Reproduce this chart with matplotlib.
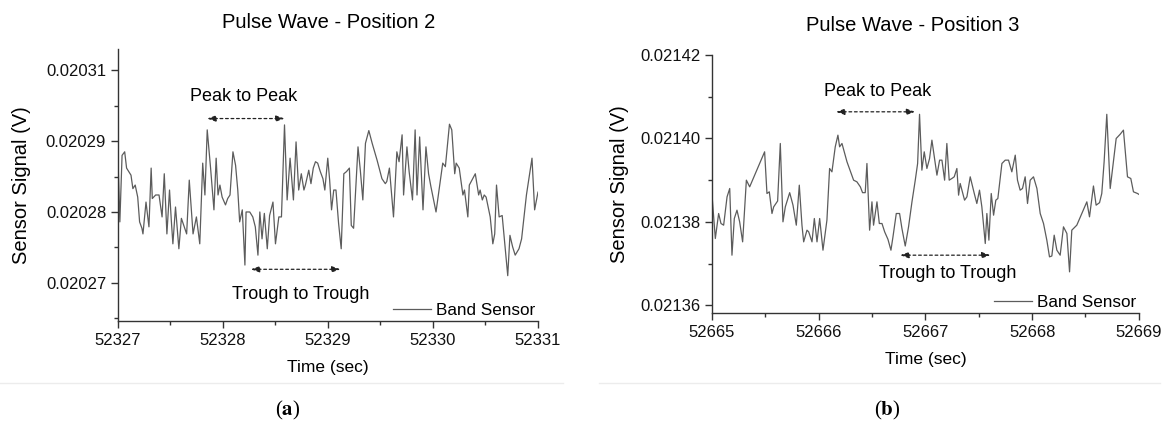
import numpy as np
import matplotlib
matplotlib.use("Agg")
import matplotlib.pyplot as plt
from matplotlib.ticker import FixedLocator, MultipleLocator
from matplotlib.lines import Line2D

plt.rcParams['font.family'] = ['Liberation Sans', 'DejaVu Sans']
plt.rcParams['mathtext.fontset'] = 'stix'

# ---- Position 2 (band sensor) ----
t0_a = 52327
dt_a = [0.000, 0.018, 0.039, 0.064, 0.082, 0.103, 0.124, 0.142, 0.164, 0.188,
        0.206, 0.228, 0.238, 0.267, 0.295, 0.316, 0.327, 0.359, 0.391, 0.420,
        0.441, 0.466, 0.491, 0.508, 0.523, 0.548, 0.580, 0.604, 0.654, 0.679,
        0.715, 0.747, 0.779, 0.807, 0.828, 0.850, 0.882, 0.914, 0.935, 0.953,
        0.971, 0.992, 1.024, 1.045, 1.067, 1.095, 1.120, 1.141, 1.159, 1.184,
        1.209, 1.220, 1.255, 1.284, 1.308, 1.333, 1.351, 1.372, 1.394, 1.422,
        1.444, 1.476, 1.500, 1.532, 1.557, 1.586, 1.611, 1.639, 1.671, 1.696,
        1.721, 1.746, 1.771, 1.785, 1.817, 1.838, 1.860, 1.881, 1.902, 1.927,
        1.952, 1.970, 1.998, 2.016, 2.034, 2.055, 2.076, 2.101, 2.126, 2.151,
        2.176, 2.204, 2.222, 2.244, 2.286, 2.308, 2.332, 2.357, 2.389, 2.421,
        2.468, 2.514, 2.546, 2.560, 2.585, 2.624, 2.656, 2.677, 2.706, 2.720,
        2.752, 2.773, 2.805, 2.830, 2.848, 2.873, 2.905, 2.933, 2.958, 2.980,
        3.029, 3.093, 3.118, 3.157, 3.179, 3.207, 3.221, 3.250, 3.285, 3.300,
        3.332, 3.346, 3.403, 3.435, 3.449, 3.470, 3.488, 3.506, 3.545, 3.570,
        3.588, 3.605, 3.630, 3.659, 3.712, 3.733, 3.758, 3.783, 3.819, 3.844,
        3.890, 3.943, 3.968, 4.000]
uv_a = [20292.6, 20283.6, 20293.0, 20293.5, 20291.2, 20290.7, 20290.2, 20288.3, 20288.8, 20287.1,
        20283.6, 20282.7, 20281.9, 20286.4, 20282.9, 20291.2, 20286.9, 20287.4, 20287.4, 20284.3,
        20290.4, 20281.9, 20288.1, 20283.8, 20280.5, 20285.7, 20279.8, 20284.1, 20281.9, 20289.5,
        20281.9, 20284.3, 20280.5, 20291.9, 20287.4, 20296.6, 20291.2, 20285.3, 20292.6, 20287.4,
        20288.8, 20287.1, 20286.0, 20286.9, 20287.4, 20293.5, 20291.6, 20288.1, 20283.6, 20285.3,
        20277.5, 20285.0, 20285.0, 20284.3, 20282.9, 20278.9, 20285.0, 20281.2, 20284.8, 20279.8,
        20284.5, 20286.4, 20280.5, 20284.3, 20284.3, 20297.3, 20286.7, 20292.6, 20286.7, 20294.9,
        20288.1, 20290.4, 20288.1, 20288.8, 20290.9, 20289.0, 20291.2, 20292.1, 20291.9, 20290.7,
        20289.7, 20288.1, 20292.6, 20289.5, 20285.3, 20288.1, 20288.1, 20283.4, 20279.8, 20290.4,
        20290.7, 20291.2, 20283.1, 20282.7, 20294.2, 20290.9, 20286.7, 20294.7, 20296.5, 20294.7,
        20292.3, 20289.7, 20289.0, 20289.3, 20291.2, 20284.3, 20293.5, 20292.1, 20295.9, 20287.4,
        20294.2, 20290.7, 20286.7, 20296.6, 20287.4, 20295.6, 20285.3, 20294.2, 20290.4, 20288.6,
        20285.0, 20291.9, 20291.4, 20297.4, 20296.6, 20290.4, 20291.9, 20291.2, 20287.4, 20288.1,
        20284.3, 20288.8, 20290.4, 20287.4, 20288.1, 20286.7, 20287.4, 20287.1, 20284.3, 20280.5,
        20281.9, 20288.8, 20284.3, 20284.5, 20276.0, 20281.7, 20280.1, 20278.9, 20279.8, 20281.2,
        20287.4, 20292.6, 20285.3, 20287.8]

# ---- Position 3 (band sensor) ----
t0_b = 52665
dt_b = [0.000, 0.031, 0.062, 0.084, 0.109, 0.141, 0.166, 0.187, 0.209, 0.234,
        0.259, 0.287, 0.322, 0.353, 0.493, 0.515, 0.537, 0.562, 0.578, 0.615,
        0.640, 0.665, 0.687, 0.728, 0.759, 0.790, 0.818, 0.843, 0.859, 0.890,
        0.906, 0.937, 0.959, 0.984, 1.009, 1.040, 1.077, 1.102, 1.124, 1.155,
        1.180, 1.196, 1.218, 1.265, 1.327, 1.358, 1.390, 1.411, 1.436, 1.452,
        1.477, 1.499, 1.514, 1.546, 1.568, 1.593, 1.618, 1.649, 1.677, 1.696,
        1.727, 1.758, 1.780, 1.811, 1.842, 1.874, 1.905, 1.927, 1.945, 1.967,
        1.989, 2.014, 2.039, 2.061, 2.083, 2.108, 2.133, 2.155, 2.180, 2.201,
        2.223, 2.248, 2.270, 2.295, 2.311, 2.326, 2.342, 2.367, 2.389, 2.420,
        2.458, 2.482, 2.507, 2.529, 2.561, 2.576, 2.595, 2.617, 2.639, 2.660,
        2.679, 2.717, 2.748, 2.779, 2.810, 2.842, 2.863, 2.888, 2.910, 2.935,
        2.957, 2.982, 3.013, 3.045, 3.076, 3.107, 3.138, 3.163, 3.185, 3.207,
        3.232, 3.263, 3.294, 3.326, 3.351, 3.372, 3.419, 3.466, 3.513, 3.538,
        3.575, 3.600, 3.632, 3.653, 3.675, 3.700, 3.732, 3.788, 3.825, 3.856,
        3.894, 3.925, 3.950, 3.988, 4.000]
uv_b = [21386.4, 21376.0, 21382.0, 21379.6, 21379.2, 21386.0, 21388.0, 21372.0, 21380.8, 21382.8,
        21380.0, 21375.2, 21390.0, 21388.4, 21396.8, 21386.8, 21387.2, 21382.0, 21383.6, 21385.0,
        21398.8, 21380.0, 21383.6, 21387.0, 21384.0, 21379.2, 21388.8, 21379.2, 21375.2, 21378.0,
        21377.6, 21375.2, 21380.8, 21375.2, 21380.8, 21373.2, 21380.4, 21392.8, 21392.0, 21398.0,
        21400.8, 21398.0, 21398.8, 21394.4, 21390.0, 21389.6, 21388.4, 21387.0, 21387.0, 21394.0,
        21378.0, 21384.8, 21379.2, 21384.8, 21379.6, 21379.6, 21377.6, 21375.8, 21373.2, 21376.4,
        21382.0, 21382.0, 21378.4, 21374.2, 21378.8, 21384.8, 21390.0, 21394.0, 21405.8, 21392.4,
        21396.8, 21392.8, 21395.2, 21399.6, 21395.6, 21391.2, 21394.8, 21394.8, 21390.0, 21398.8,
        21390.0, 21390.4, 21390.8, 21392.8, 21386.4, 21389.2, 21387.6, 21385.2, 21386.0, 21390.8,
        21386.8, 21384.4, 21387.6, 21383.6, 21374.8, 21382.0, 21375.6, 21386.8, 21381.6, 21385.2,
        21385.6, 21394.0, 21394.8, 21394.8, 21392.0, 21396.0, 21390.0, 21387.6, 21388.0, 21390.8,
        21384.4, 21390.0, 21390.8, 21388.0, 21382.0, 21379.6, 21375.6, 21371.6, 21371.8, 21376.8,
        21373.2, 21372.0, 21378.8, 21377.2, 21368.0, 21378.0, 21379.2, 21382.0, 21384.8, 21381.2,
        21388.6, 21384.0, 21384.6, 21386.8, 21394.4, 21405.8, 21388.0, 21400.0, 21401.0, 21402.0,
        21390.8, 21390.4, 21387.2, 21386.8, 21386.6]

# y ticks (Origin-style rounded labels)
yticks_a = [0.020275, 0.020285, 0.020295, 0.020305]
ylabels_a = ['0.02027', '0.02028', '0.02029', '0.02031']
yticks_b = [0.02136, 0.02138, 0.02140, 0.02142]
ylabels_b = ['0.02136', '0.02138', '0.02140', '0.02142']

line_col = '#5c5c5c'
ax_col = '#333333'

fig = plt.figure(figsize=(11.68, 4.24), dpi=100)
ax_a = fig.add_axes([0.101, 0.243, 0.3596, 0.641])
ax_b = fig.add_axes([0.6096, 0.2625, 0.3654, 0.6075])


def style_axes(ax, t0, yt, yl, ypad, xpad):
    for s in ['top', 'right']:
        ax.spines[s].set_visible(False)
    for s in ['left', 'bottom']:
        ax.spines[s].set_color(ax_col)
        ax.spines[s].set_linewidth(1.0)
    ax.set_xlim(t0, t0 + 4)
    ax.xaxis.set_major_locator(FixedLocator([t0 + i for i in range(5)]))
    ax.set_xticklabels([str(t0 + i) for i in range(5)])
    ax.xaxis.set_minor_locator(MultipleLocator(0.5))
    ax.yaxis.set_major_locator(FixedLocator(yt))
    ax.set_yticklabels(yl)
    ax.tick_params(which='major', direction='out', length=5, width=1,
                   color=ax_col, labelsize=12, labelcolor='#111111')
    ax.tick_params(which='minor', direction='out', length=3, width=1, color=ax_col)
    ax.set_xlabel('Time (sec)', fontsize=12.5, labelpad=xpad)
    ax.set_ylabel('Sensor Signal (V)', fontsize=14.5, labelpad=ypad)


def dashed_arrow(ax, x1, x2, y):
    ax.annotate('', xy=(x2, y), xytext=(x1, y),
                arrowprops=dict(arrowstyle='<|-|>,head_length=0.5,head_width=0.18',
                                linestyle=(0, (2.2, 2.2)), lw=0.9, color='#222222',
                                shrinkA=0, shrinkB=0))


def add_legend(ax):
    ax.legend(loc='lower right', frameon=False, fontsize=12.3, handlelength=2.2,
              handletextpad=0.3, borderaxespad=0.0, borderpad=0.15)


# panel (a)
ta = t0_a + np.array(dt_a)
va = np.array(uv_a) * 1e-6
ax_a.plot(ta, va, color=line_col, lw=0.9, label='Band Sensor')
style_axes(ax_a, t0_a, yticks_a, ylabels_a, ypad=11, xpad=9)
ax_a.set_ylim(0.0202696, 0.0203080)
ax_a.yaxis.set_minor_locator(FixedLocator([0.02027, 0.02028, 0.02029, 0.02030]))
dashed_arrow(ax_a, t0_a + 0.850, t0_a + 1.586, 0.0202982)
dashed_arrow(ax_a, t0_a + 1.266, t0_a + 2.119, 0.0202769)
ax_a.text(t0_a + 1.195, 0.0203013, 'Peak to Peak', ha='center', va='center', fontsize=13)
ax_a.text(t0_a + 1.739, 0.0202733, 'Trough to Trough', ha='center', va='center', fontsize=13)
add_legend(ax_a)
fig.text(0.281, 0.946, 'Pulse Wave - Position 2', ha='center', va='center', fontsize=14.5)

# panel (b)
tb = t0_b + np.array(dt_b)
vb = np.array(uv_b) * 1e-6
ax_b.plot(tb, vb, color=line_col, lw=0.9, label='Band Sensor')
style_axes(ax_b, t0_b, yticks_b, ylabels_b, ypad=8, xpad=9)
ax_b.set_ylim(0.0213582, 0.02142)
ax_b.yaxis.set_minor_locator(FixedLocator([0.02137, 0.02139, 0.02141]))
dashed_arrow(ax_b, t0_b + 1.163, t0_b + 1.904, 0.0214064)
dashed_arrow(ax_b, t0_b + 1.764, t0_b + 2.610, 0.0213720)
ax_b.text(t0_b + 1.551, 0.0214112, 'Peak to Peak', ha='center', va='center', fontsize=13)
ax_b.text(t0_b + 2.208, 0.0213676, 'Trough to Trough', ha='center', va='center', fontsize=13)
add_legend(ax_b)
fig.text(0.781, 0.941, 'Pulse Wave - Position 3', ha='center', va='center', fontsize=14.5)

# thin separators and sub-figure captions
fig.add_artist(Line2D([0.0, 0.482], [0.097, 0.097], color='#ececec', lw=1))
fig.add_artist(Line2D([0.513, 0.993], [0.097, 0.097], color='#ececec', lw=1))
fig.text(0.246, 0.033, r'($\mathbf{a}$)', ha='center', va='center', fontsize=15,
         family='Liberation Serif')
fig.text(0.760, 0.033, r'($\mathbf{b}$)', ha='center', va='center', fontsize=15,
         family='Liberation Serif')

fig.savefig('out.png', dpi=100, facecolor='white')
